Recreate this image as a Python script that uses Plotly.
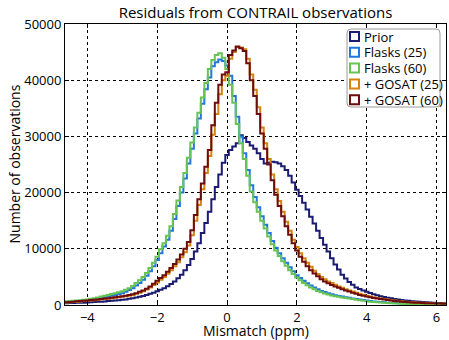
import numpy as np
import plotly.graph_objects as go

# bin centres (ppm), bin width 0.1
bin_centres = np.round(np.arange(-4.7, 6.31, 0.1), 1)

# counts in thousands of observations, one value per bin
prior_k = [0.3, 0.32, 0.34, 0.36, 0.38, 0.4, 0.42, 0.45, 0.48, 0.52,
           0.56, 0.6, 0.64, 0.69, 0.74, 0.8, 0.86, 0.93, 1.0, 1.1,
           1.2, 1.32, 1.45, 1.6, 1.78, 1.98, 2.2, 2.45, 2.72, 3.0,
           3.35, 3.75, 4.2, 4.75, 5.4, 6.2, 7.1, 8.2, 9.5, 11.0,
           12.8, 14.6, 16.6, 18.8, 21.0, 23.2, 25.3, 26.7, 27.6, 28.2,
           28.8, 30.2, 29.7, 29.0, 28.4, 27.8, 27.0, 26.0, 25.2, 25.3,
           25.5, 25.4, 25.2, 24.7, 24.0, 23.0, 21.8, 20.5, 19.4, 18.2,
           17.0, 15.7, 14.5, 13.2, 11.9, 10.7, 9.5, 8.3, 7.2, 6.3,
           5.4, 4.7, 4.1, 3.6, 3.1, 2.85, 2.6, 2.35, 2.12, 1.92,
           1.74, 1.57, 1.42, 1.3, 1.18, 1.08, 0.98, 0.9, 0.82, 0.75,
           0.68, 0.62, 0.57, 0.52, 0.48, 0.44, 0.4, 0.37, 0.34, 0.32,
           0.3]

flasks25_k = [0.45, 0.5, 0.55, 0.6, 0.65, 0.7, 0.75, 0.8, 0.88, 0.97,
              1.08, 1.2, 1.35, 1.5, 1.65, 1.8, 1.95, 2.1, 2.35, 2.65,
              3.0, 3.45, 3.9, 4.5, 5.2, 6.0, 6.9, 8.0, 9.2, 10.4,
              11.6, 13.2, 15.3, 17.6, 20.0, 22.5, 25.2, 27.8, 30.5, 33.2,
              35.8, 38.4, 40.5, 42.5, 43.2, 43.7, 43.4, 42.6, 40.8, 37.2,
              33.5, 30.0, 27.0, 24.0, 21.3, 19.2, 17.4, 15.8, 14.3, 12.8,
              11.4, 10.2, 9.2, 8.3, 7.5, 6.7, 6.0, 5.3, 4.8, 4.3,
              3.85, 3.45, 3.1, 2.8, 2.5, 2.3, 2.1, 1.9, 1.75, 1.62,
              1.5, 1.38, 1.27, 1.16, 1.06, 0.96, 0.87, 0.78, 0.7, 0.63,
              0.57, 0.52, 0.47, 0.42, 0.38, 0.34, 0.31, 0.28, 0.25, 0.23,
              0.21, 0.19, 0.17, 0.16, 0.15, 0.14, 0.13, 0.12, 0.11, 0.1,
              0.1]

flasks60_k = [0.6, 0.65, 0.7, 0.75, 0.8, 0.85, 0.92, 1.0, 1.1, 1.2,
              1.35, 1.5, 1.65, 1.8, 1.95, 2.1, 2.25, 2.45, 2.7, 3.0,
              3.4, 3.9, 4.4, 5.0, 5.7, 6.6, 7.5, 8.6, 9.9, 11.0,
              12.3, 14.0, 16.2, 18.6, 21.0, 23.5, 26.2, 28.9, 31.6, 34.2,
              36.9, 39.5, 42.0, 43.6, 44.5, 44.8, 44.0, 42.0, 39.2, 36.0,
              32.2, 28.8, 26.0, 23.0, 20.2, 18.3, 16.6, 15.0, 13.6, 12.2,
              10.8, 9.7, 8.7, 7.8, 7.0, 6.2, 5.5, 4.9, 4.4, 3.9,
              3.5, 3.1, 2.8, 2.5, 2.25, 2.05, 1.85, 1.7, 1.55, 1.45,
              1.35, 1.25, 1.15, 1.05, 0.95, 0.85, 0.75, 0.65, 0.6, 0.55,
              0.5, 0.45, 0.4, 0.36, 0.32, 0.28, 0.25, 0.22, 0.2, 0.18,
              0.17, 0.16, 0.15, 0.14, 0.13, 0.12, 0.11, 0.1, 0.09, 0.09,
              0.08]

gosat25_k = [0.42, 0.46, 0.5, 0.55, 0.6, 0.64, 0.69, 0.74, 0.8, 0.86,
             0.92, 0.98, 1.05, 1.12, 1.2, 1.28, 1.36, 1.45, 1.55, 1.66,
             1.8, 1.98, 2.2, 2.45, 2.75, 3.1, 3.55, 4.0, 4.5, 5.0,
             5.55, 6.2, 6.9, 7.6, 8.5, 9.4, 10.6, 12.4, 15.0, 17.8,
             20.6, 23.5, 26.5, 30.3, 34.0, 37.5, 40.0, 40.8, 43.8, 45.0,
             45.9, 45.8, 45.5, 43.8, 41.0, 38.3, 35.2, 31.6, 28.8, 26.0,
             23.2, 20.6, 18.5, 16.6, 14.8, 13.2, 11.6, 10.3, 9.2, 8.3,
             7.5, 6.8, 6.1, 5.5, 5.0, 4.6, 4.2, 3.9, 3.6, 3.3,
             3.05, 2.8, 2.6, 2.4, 2.2, 2.0, 1.82, 1.65, 1.5, 1.38,
             1.26, 1.15, 1.05, 0.96, 0.88, 0.8, 0.72, 0.66, 0.6, 0.55,
             0.5, 0.46, 0.42, 0.39, 0.36, 0.33, 0.31, 0.29, 0.27, 0.25,
             0.24]

gosat60_k = [0.45, 0.5, 0.55, 0.6, 0.65, 0.7, 0.75, 0.8, 0.87, 0.94,
             1.0, 1.07, 1.14, 1.22, 1.3, 1.38, 1.46, 1.55, 1.65, 1.76,
             1.9, 2.1, 2.35, 2.6, 2.9, 3.3, 3.8, 4.3, 4.8, 5.3,
             5.9, 6.6, 7.3, 8.1, 9.0, 10.0, 11.2, 13.3, 16.0, 18.8,
             21.6, 24.6, 27.6, 32.0, 36.0, 39.2, 41.0, 41.4, 44.5, 45.3,
             46.0, 45.7, 45.2, 43.0, 40.0, 37.2, 34.0, 30.5, 27.8, 25.0,
             22.2, 19.6, 17.6, 15.8, 14.0, 12.5, 11.0, 9.7, 8.6, 7.7,
             6.9, 6.2, 5.6, 5.1, 4.6, 4.2, 3.85, 3.55, 3.3, 3.05,
             2.8, 2.58, 2.38, 2.2, 2.0, 1.8, 1.65, 1.5, 1.38, 1.26,
             1.15, 1.05, 0.96, 0.88, 0.8, 0.72, 0.65, 0.6, 0.55, 0.5,
             0.46, 0.42, 0.39, 0.36, 0.33, 0.31, 0.29, 0.27, 0.25, 0.23,
             0.22]

series_names = ["Prior", "Flasks (25)", "Flasks (60)", "+ GOSAT (25)", "+ GOSAT (60)"]
series_values = [prior_k, flasks25_k, flasks60_k, gosat25_k, gosat60_k]
series_colors = ["#1b1b72", "#2277dd", "#66c455", "#d5820f", "#6e0b0b"]

x_ticks = [-4, -2, 0, 2, 4, 6]
y_ticks = [0, 10000, 20000, 30000, 40000, 50000]

FONT = "Open Sans"

# plot-area geometry in pixels (for placing legend / labels)
L, R, T, B = 65, 446, 24, 305


def px_x(px):
    return (px - L) / (R - L)


def px_y(py):
    return (B - py) / (B - T)


fig = go.Figure()
for name, vals, col in zip(series_names, series_values, series_colors):
    counts = np.array(vals) * 1000
    fig.add_trace(go.Scatter(x=bin_centres, y=counts, mode="lines", name=name,
                             line=dict(color=col, width=2, shape="hvh"),
                             showlegend=False, hoverinfo="skip"))

axis_common = dict(showline=True, linecolor="black", linewidth=1, mirror="ticks",
                   ticks="inside", ticklen=4, tickcolor="black",
                   showgrid=True, gridcolor="black", gridwidth=1, griddash="dot",
                   zeroline=False, tickfont=dict(family=FONT, size=13, color="black"))

fig.update_xaxes(range=[-4.64, 6.27], tickvals=x_ticks, **axis_common)
fig.update_yaxes(range=[0, 50000], tickvals=y_ticks, tickformat="d", **axis_common)

# ---- legend box (matplotlib-style, rounded frame, open squares) ----
shapes = []
annotations = []
lx0, lx1, ly0, ly1, rad = 347, 440, 29, 107, 4
rx, ry = rad / (R - L), rad / (B - T)
X0, X1, Y0, Y1 = px_x(lx0), px_x(lx1), px_y(ly1), px_y(ly0)
path = (f"M {X0 + rx},{Y0} L {X1 - rx},{Y0} Q {X1},{Y0} {X1},{Y0 + ry} "
        f"L {X1},{Y1 - ry} Q {X1},{Y1} {X1 - rx},{Y1} L {X0 + rx},{Y1} "
        f"Q {X0},{Y1} {X0},{Y1 - ry} L {X0},{Y0 + ry} Q {X0},{Y0} {X0 + rx},{Y0} Z")
shapes.append(dict(type="path", xref="paper", yref="paper", path=path,
                   fillcolor="white", line=dict(color="#9a9a9a", width=1), layer="above"))
row_y = [36.5, 52.3, 68.1, 83.9, 99.7]
for name, col, cy in zip(series_names, series_colors, row_y):
    shapes.append(dict(type="rect", xref="paper", yref="paper",
                       x0=px_x(350), x1=px_x(359), y0=px_y(cy + 4.5), y1=px_y(cy - 4.5),
                       line=dict(color=col, width=2), fillcolor="white", layer="above"))
    annotations.append(dict(text=name, xref="paper", yref="paper",
                            x=px_x(363), y=px_y(cy), xanchor="left", yanchor="middle",
                            showarrow=False, borderpad=0,
                            font=dict(family=FONT, size=13, color="black")))

annotations += [
    dict(text="Number of observations", xref="paper", yref="paper",
         x=px_x(14), y=0.5, textangle=-90, showarrow=False,
         xanchor="center", yanchor="middle",
         font=dict(family=FONT, size=14, color="black")),
    dict(text="Mismatch (ppm)", xref="paper", yref="paper",
         x=0.5, y=px_y(330), showarrow=False, borderpad=0,
         xanchor="center", yanchor="middle",
         font=dict(family=FONT, size=14, color="black")),
    dict(text="11/20", xref="paper", yref="paper",
         x=px_x(192), y=px_y(336), showarrow=False,
         xanchor="center", yanchor="top",
         font=dict(family=FONT, size=11, color="#8a3fd8")),
]

fig.update_layout(
    width=449, height=340,
    margin=dict(l=L, r=449 - R, t=T, b=340 - B),
    paper_bgcolor="white", plot_bgcolor="white",
    font=dict(family=FONT, color="black"),
    showlegend=False,
    title=dict(text="Residuals from CONTRAIL observations", x=0.5, xref="paper",
               xanchor="center", y=1 - 13 / 340, yref="container", yanchor="middle",
               font=dict(family=FONT, size=15, color="black")),
    shapes=shapes,
    annotations=annotations,
)

fig.write_html("out.html")
